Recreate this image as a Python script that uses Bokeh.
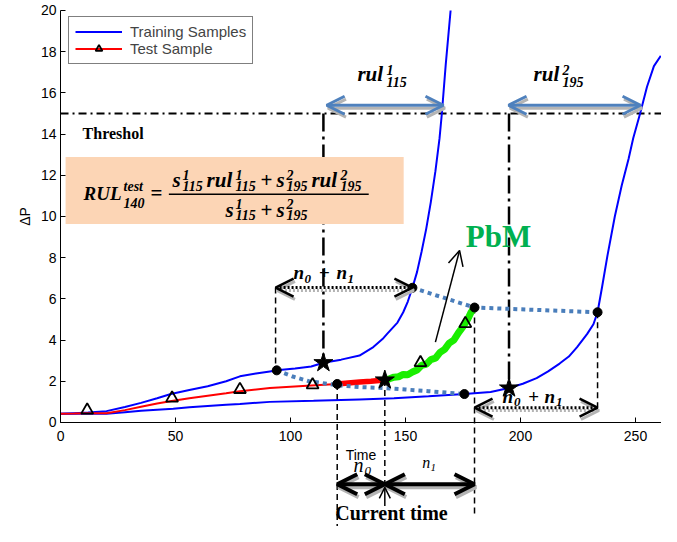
from bokeh.plotting import figure
from bokeh.models import Range1d, FixedTicker, Arrow, OpenHead, Legend, LegendItem
from bokeh.core.properties import value
from bokeh.embed import file_html
from bokeh.resources import INLINE

# ---------------- data ----------------
x_ticks = [0, 50, 100, 150, 200, 250]
y_ticks = [0, 2, 4, 6, 8, 10, 12, 14, 16, 18, 20]

train1_x = [0, 6, 12, 20, 28, 35, 42, 48, 56, 64, 72, 78, 85, 91, 94, 102, 109, 114.3, 122, 130, 136,
            140, 142, 146.5, 149, 151, 153, 155, 157, 159, 161, 163, 164.8, 165.8, 167.5, 169.6]
train1_y = [0.42, 0.45, 0.48, 0.55, 0.75, 0.95, 1.18, 1.38, 1.58, 1.76, 2.0, 2.24, 2.38, 2.48, 2.53, 2.62,
            2.72, 2.9, 3.05, 3.25, 3.66, 4.05, 4.3, 4.85, 5.35, 5.87, 6.54, 7.3, 8.3, 9.4, 10.7, 12.2,
            13.8, 15.0, 17.4, 20.0]

train2_x = [0, 10, 20, 28, 35, 42, 49, 56, 64, 72, 78, 91, 110, 130, 145, 160, 175.6, 187, 195, 201,
            207, 212, 217, 221, 224.6, 229, 231.7, 233.5, 235.5, 237.8, 241, 244, 247, 249, 252, 255,
            258, 261]
train2_y = [0.42, 0.42, 0.42, 0.5, 0.57, 0.62, 0.67, 0.74, 0.8, 0.86, 0.9, 1.0, 1.05, 1.12, 1.17, 1.27,
            1.38, 1.48, 1.67, 1.88, 2.15, 2.48, 2.86, 3.2, 3.66, 4.3, 4.77, 5.35, 6.6, 8.1, 10.0, 11.5,
            12.8, 13.8, 15.0, 16.3, 17.3, 17.8]

test_x = [0, 6, 12, 20, 28, 35, 42, 49, 56, 64, 72, 78, 91, 100, 109, 120.3]
test_y = [0.42, 0.43, 0.45, 0.45, 0.6, 0.76, 0.92, 1.05, 1.18, 1.3, 1.42, 1.52, 1.67, 1.74, 1.8, 1.87]

window_x = [120.3, 125, 130, 135, 141]
window_y = [1.87, 1.92, 1.96, 2.0, 2.06]

pbm_x = [141, 143, 145, 147, 149, 151, 153, 155, 157, 159, 161, 163, 165, 167, 169, 171, 173, 175,
         177, 178.5, 180]
pbm_y = [2.06, 2.12, 2.2, 2.22, 2.33, 2.32, 2.45, 2.55, 2.78, 2.82, 3.05, 3.12, 3.4, 3.55, 3.85, 4.0,
         4.35, 4.65, 5.0, 5.35, 5.58]

tri_x = [11.6, 48.5, 78, 109.6, 156.5, 176]
tri_y = [0.6, 1.18, 1.6, 1.82, 2.9, 4.8]

low_link_x = [94, 101, 108, 116, 123, 130, 141, 150, 160, 175.6]
low_link_y = [2.53, 2.23, 2.0, 1.88, 1.78, 1.72, 1.67, 1.6, 1.52, 1.38]
up_link_x = [153, 180, 233.5]
up_link_y = [6.54, 5.58, 5.35]

dot_x = [94, 120.3, 153, 175.6, 180, 233.5]
dot_y = [2.53, 1.87, 6.54, 1.38, 5.58, 5.35]

star_x = [114.3, 141, 195]
star_y = [2.9, 2.06, 1.67]

threshold = 15
threshold_x = [0, 261.3]

dash_x = [93.5, 120.3, 141, 180, 233.5]
dash_top = [6.55, 1.87, 2.06, 5.58, 5.35]
dash_bottom = [2.53, -5.3, -3.0, -4.6, 0.72]

rul_start = [115.7, 194.8]
rul_end = [166.5, 252.2]
rul_y = 15.4

win_start = [93.5, 180]
win_end = [153, 233.5]
win_y = [6.55, 0.72]

# ---------------- figure ----------------
p = figure(width=661, height=526, x_range=Range1d(-26.1, 261.3), y_range=Range1d(-5.05, 20.485),
           output_backend="svg", toolbar_location=None, title=None,
           min_border_left=0, min_border_right=0, min_border_top=0, min_border_bottom=0)
p.outline_line_color = None
p.grid.visible = False
p.background_fill_color = "white"
p.border_fill_color = "white"

for ax in (p.xaxis, p.yaxis):
    ax.axis_line_color = "black"
    ax.axis_line_width = 1
    ax.major_tick_in = 5
    ax.major_tick_out = 0
    ax.major_tick_line_color = "black"
    ax.minor_tick_line_color = None
    ax.major_label_text_font = "Liberation Sans"
    ax.major_label_text_font_size = "14px"
    ax.major_label_text_color = "black"
    ax.axis_label_text_font = "Liberation Sans"
    ax.axis_label_text_font_size = "14px"
    ax.axis_label_text_font_style = "normal"
    ax.axis_label_text_color = "black"

p.xaxis.fixed_location = 0
p.yaxis.fixed_location = 0
p.xaxis.bounds = (0, 261.3)
p.yaxis.bounds = (0, 20)
p.xaxis.ticker = FixedTicker(ticks=x_ticks)
p.yaxis.ticker = FixedTicker(ticks=y_ticks)
p.xaxis.major_label_standoff = 9
p.yaxis.major_label_standoff = 4
p.xaxis.axis_label = "Time"
p.xaxis.axis_label_standoff = 2
p.yaxis.axis_label = "ΔP"
p.yaxis.axis_label_standoff = 5

# threshold
p.line(threshold_x, [threshold, threshold], line_color="black", line_width=2, line_dash="8 4 2 4")

# dash-dot verticals from threshold to stars
p.segment(x0=[star_x[0], star_x[2]], y0=[threshold, threshold],
          x1=[star_x[0], star_x[2]], y1=[star_y[0], star_y[2]],
          line_color="black", line_width=2.5, line_dash="18 5 3 5")

# formula box
p.quad(left=[2.2], right=[149.2], bottom=[9.64], top=[12.89], fill_color="#fcd5b5", line_color=None)

# dashed verticals
p.segment(x0=dash_x, y0=dash_top, x1=dash_x, y1=dash_bottom,
          line_color="black", line_width=1.5, line_dash="6 4")

# curves
r_tr1 = p.line(train1_x, train1_y, line_color="#0000ff", line_width=2)
p.line(train2_x, train2_y, line_color="#0000ff", line_width=2)
r_te = p.line(test_x, test_y, line_color="#ff0000", line_width=2)
p.line(window_x, window_y, line_color="#ff0000", line_width=5.5)
p.line(pbm_x, pbm_y, line_color="#1aee00", line_width=7)

# dotted links
p.line(low_link_x, low_link_y, line_color="#4a7ebb", line_width=4, line_dash="4 4")
p.line(up_link_x, up_link_y, line_color="#4a7ebb", line_width=4, line_dash="4 4")

# ---------------- texts ----------------
PX_PER_UNIT = 20.5   # vertical pixels per data unit (526 px / 25.535 units)


def put(texts, xs, ys, size, style="bold italic", font="Liberation Serif", color="black", align="left"):
    # ys are baselines; the text is anchored at the middle of its em box (0.34 em above baseline)
    lift = 0.34 * size / PX_PER_UNIT
    p.text(x=xs, y=[v + lift for v in ys], text=texts, text_font=value(font),
           text_font_size=value(f"{size}px"), text_font_style=style, text_color=color,
           text_align=align, text_baseline="middle")

# formula
put(["RUL"], [10.0], [10.79], 19)
put(["test", "140"], [27.4, 27.4], [11.2, 10.42], 14)
put(["="], [41.7], [10.79], 21, style="bold", align="center")
put(["s", "rul", "s", "rul", "s", "s"], [48.7, 63.5, 93.9, 109.1, 71.7, 93.9],
    [11.4, 11.4, 11.4, 11.4, 9.98, 9.98], 21)
put(["+", "+"], [89.6, 89.6], [11.4, 9.98], 21, style="bold", align="center")
put(["1", "115", "1", "115", "2", "195", "2", "195"],
    [53.0, 53.0, 76.1, 76.1, 98.3, 98.3, 121.7, 121.7],
    [11.8, 11.26, 11.8, 11.26, 11.8, 11.26, 11.8, 11.26], 14)
put(["1", "115", "2", "195"], [76.1, 76.1, 98.3, 98.3], [10.38, 9.82, 10.38, 9.82], 14)
p.segment(x0=[47.1], y0=[11.08], x1=[134.0], y1=[11.08], line_color="black", line_width=1.6)

# rul labels
put(["rul", "rul"], [129.1, 205.7], [16.55, 16.55], 21)
put(["1", "115", "2", "195"], [141.7, 141.7, 218.3, 218.3], [16.9, 16.3, 16.9, 16.3], 14)

# n0 + n1 labels
put(["n", "n", "n", "n"], [101.3, 120.0, 192.2, 210.4], [6.95, 6.95, 0.97, 0.97], 19)
put(["0", "1", "0", "1"], [106.1, 124.8, 197.2, 215.4], [6.77, 6.77, 0.79, 0.79], 13)
put(["+", "+"], [114.7, 205.7], [6.95, 0.97], 19, style="bold", align="center")

# bottom labels
put(["n"], [127.4], [-2.38], 20, style="italic")
put(["0"], [132.2], [-2.56], 13, style="italic")
put(["n"], [157.3], [-2.2], 16, style="italic")
put(["1"], [160.9], [-2.38], 11, style="italic")
put(["Current time"], [143.9], [-4.72], 20, style="bold", align="center")

put(["Threshol"], [9.6], [13.76], 16, style="bold")
put(["PbM"], [190.4], [8.5], 31, style="bold", color="#00b050", align="center")

# markers
r_tri = p.scatter(tri_x, tri_y, marker="triangle", size=12, fill_alpha=0,
                  line_color="black", line_width=1.8)
p.scatter(dot_x, dot_y, marker="circle", size=9, color="black")
p.scatter(star_x, star_y, marker="star", size=20, color="black")

# ---------------- arrows ----------------
def arrow(x0, y0, x1, y1, color, width, size, dash="solid", both=True, head_width=None):
    hw = head_width if head_width is not None else width
    end = OpenHead(size=size, line_color=color, line_width=hw)
    start = OpenHead(size=size, line_color=color, line_width=hw) if both else None
    p.add_layout(Arrow(start=start, end=end, x_start=x0, y_start=y0, x_end=x1, y_end=y1,
                       line_color=color, line_width=width, line_dash=dash))

shadow = "#b4b4b4"
for a, b in zip(rul_start, rul_end):
    arrow(a + 0.6, rul_y - 0.14, b + 0.6, rul_y - 0.14, shadow, 3, 18)
    arrow(a, rul_y, b, rul_y, "#4f81bd", 3, 18)

for a, b, yy in zip(win_start, win_end, win_y):
    arrow(a + 0.6, yy - 0.14, b + 0.6, yy - 0.14, shadow, 3, 18, dash="2 2")
    arrow(a, yy, b, yy, "black", 3, 18, dash="2 2", head_width=2.5)

# current-time window arrows
arrow(120.3 + 0.6, -3.14, 141 + 0.6, -3.14, shadow, 4, 20)
arrow(141 + 0.6, -3.14, 180 + 0.6, -3.14, shadow, 4, 20)
arrow(120.3, -3.0, 141, -3.0, "black", 4, 20)
arrow(141, -3.0, 180, -3.0, "black", 4, 20)

arrow(141, -4.05, 141, -3.15, "black", 1.5, 11, both=False)
arrow(163, 3.9, 173.5, 8.35, "black", 1.5, 15, both=False)

# ---------------- legend ----------------
legend = Legend(items=[LegendItem(label="Training Samples", renderers=[r_tr1]),
                       LegendItem(label="Test Sample", renderers=[r_te, r_tri])],
                location=(68, 462), margin=0, padding=6, spacing=0,
                glyph_width=47, glyph_height=17, label_height=17, label_standoff=8,
                label_text_font="Liberation Sans", label_text_font_size="15px",
                border_line_color="black", border_line_width=1,
                background_fill_color="white", background_fill_alpha=1)
p.add_layout(legend)

open("out.html", "w").write(file_html(p, INLINE))
